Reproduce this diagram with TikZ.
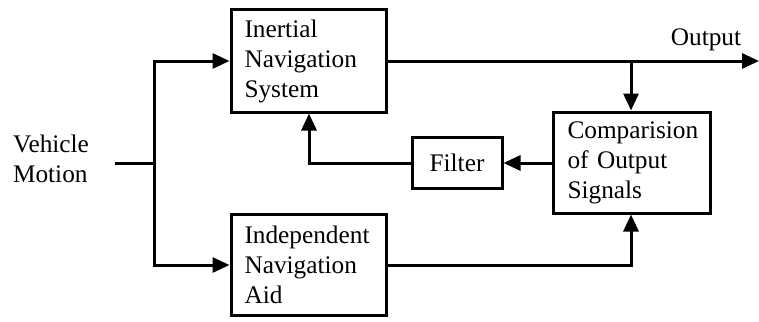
\documentclass[tikz,border=0pt]{standalone}
\usepackage{fontspec}
\setmainfont{Liberation Serif}
\usetikzlibrary{arrows.meta}
\begin{document}
\begin{tikzpicture}[x=1pt,y=-1pt,
  line width=3pt,
  every node/.style={font=\fontsize{25.3}{30}\selectfont},
  blk/.style={draw,rectangle,line width=3pt,inner sep=0pt,align=left},
  arr/.style={-{Triangle[length=17pt,width=15pt]}},
  txt/.style={inner sep=0pt,align=left}]
\useasboundingbox (0,0) rectangle (759,321);
\node[blk,minimum width=155,minimum height=102,text width=128] (ins) at (308.5,61) {Inertial\\Navigation\\System};
\node[blk,minimum width=155,minimum height=101,text width=128] (ind) at (308.5,264.5) {Independent\\Navigation\\Aid};
\node[blk,minimum width=90,minimum height=51,align=center] (flt) at (457,162.5) {Filter};
\node[blk,minimum width=157,minimum height=101,text width=128] (cmp) at (631.5,162.5) {Comparision\\of Output\\Signals};
\node[txt] (vm) at (51,159) {Vehicle\\Motion};
\node[txt] (out) at (706,40) {Output};
\coordinate (in) at (115,163);
\coordinate (br) at (154,163);
\coordinate (end) at (759,61);
\coordinate (ob) at (631,61);
\draw (in) -- (br);
\draw[arr] (br) |- (ins.west |- 0,61);
\draw[arr] (br) |- (ind.west |- 0,265);
\draw[arr] (ins.east |- 0,61) -- (end);
\draw[arr] (ob) -- (cmp.north -| ob);
\draw[arr] (ind.east |- 0,265) -| (cmp.south -| ob);
\draw[arr] (cmp.west |- 0,163) -- (flt.east |- 0,163);
\draw[arr] (flt.west |- 0,163) -| (ins.south -| 309,0);
\end{tikzpicture}
\end{document}
